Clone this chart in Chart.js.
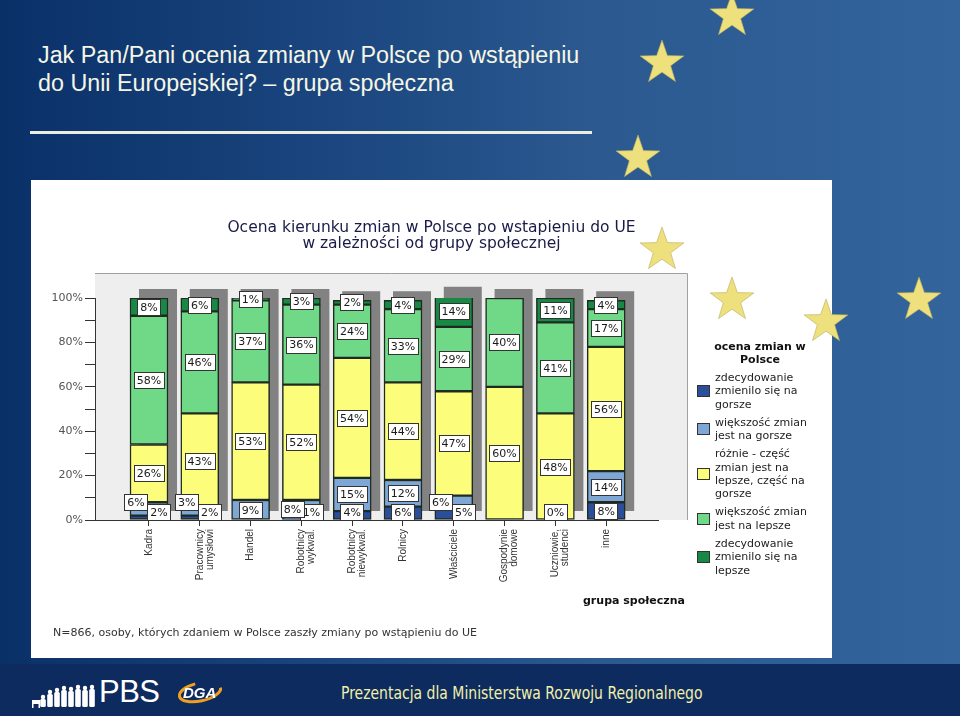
<!DOCTYPE html>
<html><head><meta charset="utf-8">
<script src="https://cdn.jsdelivr.net/npm/chart.js@4/dist/chart.umd.min.js"></script>
<style>
html,body{margin:0;padding:0;}
body{width:960px;height:716px;overflow:hidden;position:relative;background:linear-gradient(90deg,#0a3068 0%,#1b467f 35%,#2b5990 62%,#33649c 100%);font-family:'DejaVu Sans',sans-serif;}
.abs{position:absolute;}
#slideTitle{left:38px;top:41px;color:#f6f6e6;font:23.3px/28px 'Liberation Sans',Arial,sans-serif;white-space:nowrap;}
#rule{left:30px;top:131px;width:562px;height:3px;background:#ecece0;}
#panel{left:31px;top:180px;width:801px;height:478px;background:#fff;}
#chartWrap{left:31px;top:180px;width:801px;height:478px;}
#chartTitle{left:31px;width:801px;top:219px;text-align:center;color:#1a1a48;font:15.5px/16px 'DejaVu Sans',sans-serif;}
#legendTitle{left:697px;width:126px;top:341px;text-align:center;font:bold 11px/12.5px 'DejaVu Sans',sans-serif;color:#111;}
#legend{left:697px;top:371px;width:135px;}
.item{display:flex;align-items:center;margin-bottom:4.6px;}
.sw{width:11px;height:10px;border:1px solid #333;margin-right:5px;flex:none;}
.txt{font:11px/13.4px 'DejaVu Sans',sans-serif;color:#222;white-space:nowrap;}
#axisTitle{left:583px;top:594px;font:bold 11px/14px 'DejaVu Sans',sans-serif;color:#111;}
#note{left:53px;top:626px;font:11px/14px 'DejaVu Sans',sans-serif;color:#333;white-space:nowrap;}
#footer{left:0;top:664px;width:960px;height:52px;background:#0e2b5f;}
#footText{left:341px;top:682px;color:#f2f0a8;font:17px/22px 'Liberation Sans Narrow','DejaVu Sans Condensed',sans-serif;white-space:nowrap;transform:scaleX(0.914);transform-origin:0 50%;}
#pbs{left:99px;top:674px;color:#fff;font:31px/36px 'Liberation Sans',Arial,sans-serif;letter-spacing:-0.5px;}
#decor{left:0;top:0;width:960px;height:716px;pointer-events:none;}
</style>
</head><body>
<div class="abs" id="slideTitle">Jak Pan/Pani ocenia zmiany w Polsce po wstąpieniu<br>do Unii Europejskiej? – grupa społeczna</div>
<div class="abs" id="rule"></div>
<div class="abs" id="panel"></div>
<div class="abs" id="chartWrap"><canvas id="c" width="801" height="478"></canvas></div>
<div class="abs" id="chartTitle">Ocena kierunku zmian w Polsce po wstapieniu do UE<br>w zależności od grupy społecznej</div>
<div class="abs" id="legendTitle">ocena zmian w<br>Polsce</div>
<div class="abs" id="legend"></div>
<div class="abs" id="axisTitle">grupa społeczna</div>
<div class="abs" id="note">N=866, osoby, których zdaniem w Polsce zaszły zmiany po wstąpieniu do UE</div>
<div class="abs" id="footer"></div>
<div class="abs" id="footText">Prezentacja dla Ministerstwa Rozwoju Regionalnego</div>
<div class="abs" id="pbs">PBS</div>
<svg class="abs" id="decor" width="960" height="716" xmlns="http://www.w3.org/2000/svg"></svg>
<script>
// ---- data ----
const categories = ['Kadra', ['Pracownicy','umysłowi'], 'Handel', ['Robotnicy','wykwal.'], ['Robotnicy','niewykwal.'], 'Rolnicy', 'Właściciele', ['Gospodynie','domowe'], ['Uczniowie,','studenci'], 'inne'];
const seriesNames = [
  ['zdecydowanie','zmienilo się na','gorsze'],
  ['większość zmian','jest na gorsze'],
  ['różnie - część','zmian jest na','lepsze, część na','gorsze'],
  ['większość zmian','jest na lepsze'],
  ['zdecydowanie','zmienilo się na','lepsze']
];
const zdecydowanieGorsze = [2, 2, null, 1, 4, 6, 5, null, 0, 8];
const wiekszoscGorsze    = [6, 3, 9, 8, 15, 12, 6, null, null, 14];
const roznie             = [26, 43, 53, 52, 54, 44, 47, 60, 48, 56];
const wiekszoscLepsze    = [58, 46, 37, 36, 24, 33, 29, 40, 41, 17];
const zdecydowanieLepsze = [8, 6, 1, 3, 2, 4, 14, null, 11, 4];
const yTickValues = [0, 10, 20, 30, 40, 50, 60, 70, 80, 90, 100];
const yTickLabels = ['0%', '', '20%', '', '40%', '', '60%', '', '80%', '', '100%'];

const allSeries = [zdecydowanieGorsze, wiekszoscGorsze, roznie, wiekszoscLepsze, zdecydowanieLepsze];
const colors = ['#2b4e9b', '#7fa7d6', '#fdfd7c', '#6fd987', '#178944'];

// ---- legend (HTML) ----
const lg = document.getElementById('legend');
seriesNames.forEach((lines, i) => {
  const it = document.createElement('div'); it.className = 'item';
  const sw = document.createElement('div'); sw.className = 'sw'; sw.style.background = colors[i];
  const tx = document.createElement('div'); tx.className = 'txt'; tx.innerHTML = lines.join('<br>');
  it.appendChild(sw); it.appendChild(tx); lg.appendChild(it);
});

// ---- decor: stars and logo ----
(function(){
  const svg = document.getElementById('decor');
  const NS = 'http://www.w3.org/2000/svg';
  const starPos = [[732,16],[662,63],[638,158],[662,250],[732,300],[826,322],[919,300]];
  starPos.forEach(([cx,cy]) => {
    const R = 23, r = 9.2, pts = [];
    for (let k = 0; k < 10; k++) {
      const a = -Math.PI/2 + k*Math.PI/5, rr = k%2 ? r : R;
      pts.push((cx + rr*Math.cos(a)).toFixed(1) + ',' + (cy + rr*Math.sin(a)).toFixed(1));
    }
    const p = document.createElementNS(NS, 'polygon');
    p.setAttribute('points', pts.join(' '));
    p.setAttribute('fill', '#eee07c'); p.setAttribute('stroke', '#b8ad60'); p.setAttribute('stroke-width', '0.6');
    svg.appendChild(p);
  });
  const figs = [[36,6],[43,8],[50,13],[57,15],[64,17],[71,16],[78,18],[85,17],[92,18]];
  figs.forEach(([x,h],k) => {
    const g = document.createElementNS(NS,'g'); g.setAttribute('fill','#fff');
    if (k === 0) {
      const b = document.createElementNS(NS,'rect'); b.setAttribute('x',x-4); b.setAttribute('y',700); b.setAttribute('width',8); b.setAttribute('height',4); g.appendChild(b);
      const l = document.createElementNS(NS,'rect'); l.setAttribute('x',x-4); l.setAttribute('y',703); l.setAttribute('width',1.5); l.setAttribute('height',5); g.appendChild(l);
      const l2 = document.createElementNS(NS,'rect'); l2.setAttribute('x',x+2.5); l2.setAttribute('y',703); l2.setAttribute('width',1.5); l2.setAttribute('height',5); g.appendChild(l2);
    } else {
      const head = document.createElementNS(NS,'circle'); head.setAttribute('cx',x); head.setAttribute('cy',707-h-2); head.setAttribute('r',2.2); g.appendChild(head);
      const body = document.createElementNS(NS,'rect'); body.setAttribute('x',x-2.8); body.setAttribute('y',707-h); body.setAttribute('width',5.6); body.setAttribute('height',h); body.setAttribute('rx',1.5); g.appendChild(body);
    }
    svg.appendChild(g);
  });
  const el = document.createElementNS(NS,'ellipse');
  el.setAttribute('cx',200); el.setAttribute('cy',692); el.setAttribute('rx',21); el.setAttribute('ry',9);
  el.setAttribute('fill','none'); el.setAttribute('stroke','#f0a020'); el.setAttribute('stroke-width','3');
  el.setAttribute('stroke-dasharray','70 200'); el.setAttribute('transform','rotate(-12 200 692)');
  svg.appendChild(el);
  const t = document.createElementNS(NS,'text');
  t.setAttribute('x',183); t.setAttribute('y',698); t.setAttribute('fill','#fff');
  t.setAttribute('font-family','Liberation Sans'); t.setAttribute('font-weight','bold'); t.setAttribute('font-style','italic'); t.setAttribute('font-size','15');
  t.textContent = 'DGA'; svg.appendChild(t);
})();

// ---- plugins ----
const plotBg = {
  id: 'plotBg',
  beforeDraw(chart) {
    const {ctx, chartArea: a} = chart;
    ctx.save();
    ctx.fillStyle = '#eeeeee';
    ctx.fillRect(a.left, a.top - 25, a.right - a.left + 30, a.bottom - a.top + 25);
    ctx.strokeStyle = '#a0a0a0'; ctx.lineWidth = 1;
    ctx.beginPath();
    ctx.moveTo(a.left, a.top - 24.5); ctx.lineTo(a.right + 29.5, a.top - 24.5); ctx.lineTo(a.right + 29.5, a.bottom);
    ctx.stroke();
    ctx.restore();
  }
};
const shadows = {
  id: 'shadows',
  beforeDatasetsDraw(chart) {
    const ctx = chart.ctx, ys = chart.scales.y;
    const meta = chart.getDatasetMeta(2);
    ctx.save(); ctx.fillStyle = '#828282';
    meta.data.forEach((el, j) => {
      const total = allSeries.reduce((s, arr) => s + (arr[j] || 0), 0);
      const top = ys.getPixelForValue(total), bottom = ys.getPixelForValue(0);
      const w = el.width;
      ctx.fillRect(el.x - w/2 + 9, top - 9, w, bottom - top);
    });
    ctx.restore();
  }
};
const boxLabels = {
  id: 'boxLabels',
  afterDatasetsDraw(chart) {
    const ctx = chart.ctx, ys = chart.scales.y;
    const bottom = ys.getPixelForValue(0);
    ctx.save();
    ctx.font = '11px "DejaVu Sans"';
    ctx.textAlign = 'center'; ctx.textBaseline = 'middle';
    allSeries.forEach((arr, d) => {
      arr.forEach((v, j) => {
        if (v === null) return;
        const ref = chart.getDatasetMeta(2).data[j];
        let cum = 0;
        for (let k = 0; k < d; k++) cum += (allSeries[k][j] || 0);
        const yTop = ys.getPixelForValue(cum + v), yBot = ys.getPixelForValue(cum);
        let cx = ref.x, cy = (yTop + yBot) / 2;
        const dark = zdecydowanieGorsze[j], light = wiekszoscGorsze[j];
        if (d === 0) {
          cy = Math.min(cy, bottom - 8);
          if ((light !== null && light < 7) || (v > 0 && v < 3)) cx += 10;
        } else if (d === 1) {
          if (v < 7) { cx -= 13; cy = bottom - 18; }
          else if (dark !== null && dark > 0 && dark < 3) cx -= 9;
        }
        const txt = v + '%';
        const w = ctx.measureText(txt).width + 6, h = 16;
        ctx.fillStyle = '#ffffff';
        ctx.fillRect(Math.round(cx - w/2) + 0.5, Math.round(cy - h/2) + 0.5, Math.round(w), h);
        ctx.strokeStyle = '#333'; ctx.lineWidth = 1;
        ctx.strokeRect(Math.round(cx - w/2) + 0.5, Math.round(cy - h/2) + 0.5, Math.round(w), h);
        ctx.fillStyle = '#1a1a1a';
        ctx.fillText(txt, cx, cy + 1);
      });
    });
    ctx.restore();
  }
};

// ---- chart ----
const datasets = allSeries.map((arr, d) => ({
  label: seriesNames[d].join(' '),
  data: arr.map((v, i) => ({x: i, y: v})),
  backgroundColor: colors[d],
  borderColor: '#1f2b20',
  borderWidth: 1.5,
  borderSkipped: false,
  barThickness: 38
}));

new Chart(document.getElementById('c'), {
  type: 'bar',
  data: { datasets },
  plugins: [plotBg, shadows, boxLabels],
  options: {
    responsive: false,
    animation: false,
    layout: { padding: { top: 118, right: 174, left: 0, bottom: 0 } },
    plugins: { legend: { display: false }, tooltip: { enabled: false }, title: { display: false } },
    scales: {
      x: {
        type: 'linear', stacked: true, min: -1.063, max: 10.02, offset: false,
        afterBuildTicks: s => { s.ticks = categories.map((_, i) => ({ value: i })); },
        afterFit: s => { s.height = 138; },
        ticks: {
          callback: v => categories[v],
          autoSkip: false, minRotation: 90, maxRotation: 90,
          color: '#333', padding: 3,
          font: { family: 'Liberation Sans', size: 10, lineHeight: 1 }
        },
        grid: { drawOnChartArea: false, offset: false, tickLength: 6, color: '#333' },
        border: { color: '#333', width: 1 }
      },
      y: {
        stacked: true, min: 0, max: 100,
        afterBuildTicks: s => { s.ticks = yTickValues.map(v => ({ value: v })); },
        afterFit: s => { s.width = 64; },
        ticks: {
          callback: (v) => yTickLabels[yTickValues.indexOf(v)],
          color: '#555', padding: 2,
          font: { family: 'DejaVu Sans', size: 11 }
        },
        grid: { drawOnChartArea: false, tickLength: 10, color: '#333' },
        border: { color: '#333', width: 1 }
      }
    }
  }
});
</script>
</body></html>
